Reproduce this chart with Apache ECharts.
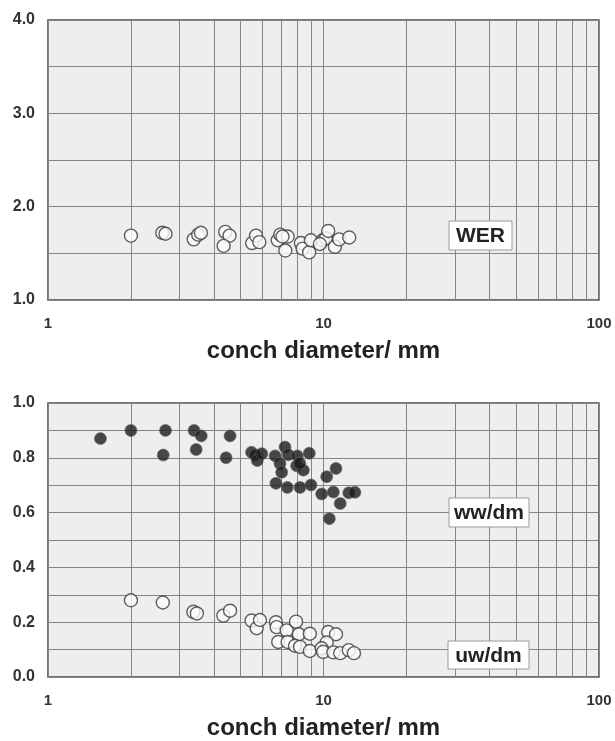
<!DOCTYPE html>
<html>
<head>
<meta charset="utf-8">
<script src="https://cdn.jsdelivr.net/npm/echarts@6/dist/echarts.min.js"></script>
<style>
  html, body { margin: 0; padding: 0; background: #fff; }
  #chart { width: 615px; height: 741px; }
</style>
</head>
<body>
<div id="chart"></div>
<script>
// conch diameter (mm) vs ratio
const werX = [2.0, 2.6, 2.67, 3.38, 3.51, 3.59, 4.40, 4.56, 4.34, 5.51, 5.69, 5.85, 6.82, 6.97, 7.41, 7.27, 8.28, 8.40, 8.87, 9.0, 9.93, 10.2, 10.4, 11.0, 11.4, 12.4, 7.1, 9.7]
const werY = [1.69, 1.72, 1.71, 1.65, 1.70, 1.72, 1.73, 1.69, 1.58, 1.61, 1.69, 1.62, 1.64, 1.70, 1.68, 1.53, 1.61, 1.55, 1.51, 1.64, 1.64, 1.66, 1.74, 1.57, 1.65, 1.67, 1.68, 1.60]

const wwX = [1.55, 2.0, 2.67, 2.62, 3.39, 3.60, 3.45, 4.58, 4.43, 5.48, 5.64, 5.75, 5.97, 6.67, 7.25, 7.45, 8.04, 8.88, 6.95, 7.99, 8.45, 7.05, 6.72, 7.39, 8.22, 9.01, 10.27, 11.1, 9.85, 10.86, 11.5, 10.5, 12.35, 13.0, 8.2]
const wwY = [0.87, 0.90, 0.90, 0.81, 0.90, 0.88, 0.83, 0.88, 0.80, 0.82, 0.81, 0.79, 0.815, 0.807, 0.839, 0.811, 0.807, 0.817, 0.779, 0.771, 0.755, 0.747, 0.707, 0.692, 0.692, 0.701, 0.731, 0.761, 0.668, 0.675, 0.633, 0.578, 0.672, 0.674, 0.78]

const uwX = [2.0, 2.61, 3.37, 3.47, 4.33, 4.58, 5.48, 5.72, 5.88, 6.72, 6.76, 7.35, 7.95, 8.14, 8.92, 6.85, 7.41, 7.88, 8.22, 8.92, 10.4, 11.1, 10.27, 9.85, 9.97, 10.86, 11.5, 12.35, 12.9]
const uwY = [0.28, 0.272, 0.238, 0.232, 0.224, 0.242, 0.206, 0.178, 0.208, 0.200, 0.182, 0.170, 0.202, 0.156, 0.158, 0.128, 0.128, 0.114, 0.110, 0.095, 0.164, 0.156, 0.126, 0.105, 0.092, 0.090, 0.087, 0.098, 0.087]

// intermediate log gridlines
const xGrid = [2, 3, 4, 5, 6, 7, 8, 9, 20, 30, 40, 50, 60, 70, 80, 90]

const xName = 'conch diameter/ mm'
const font = 'Liberation Sans, Arial, Helvetica, sans-serif'
const gridColor = '#858585'

const pairs = (xs, ys) => xs.map((x, i) => [x, ys[i]])

const chart = echarts.init(document.getElementById('chart'), null, { renderer: 'canvas' })

function xAxisOf(gi) {
  return {
    type: 'log', logBase: 10, min: 1, max: 100, gridIndex: gi,
    name: xName, nameLocation: 'middle', nameGap: 39,
    nameTextStyle: { fontFamily: font, fontWeight: 'bold', fontSize: 24, color: '#222' },
    axisLine: { show: false },
    axisTick: { show: false },
    axisLabel: { margin: 16, fontFamily: font, fontWeight: 'bold', fontSize: 15, color: '#333' },
    splitLine: { show: true, lineStyle: { color: gridColor, width: 1 } }
  }
}

function yAxisOf(gi, min, max, step, everyNth) {
  return {
    type: 'value', min, max, interval: step, gridIndex: gi,
    axisLine: { show: false },
    axisTick: { show: false },
    axisLabel: {
      margin: 13, fontFamily: font, fontWeight: 'bold', fontSize: 16, color: '#333',
      formatter: v => (Math.round((v - min) / step) % everyNth === 0 ? v.toFixed(1) : '')
    },
    splitLine: { show: true, lineStyle: { color: gridColor, width: 1 } }
  }
}

function gridLines(gi) {
  return {
    type: 'scatter', xAxisIndex: gi, yAxisIndex: gi, data: [], z: 1,
    markLine: {
      silent: true, symbol: 'none', animation: false, z: 1,
      label: { show: false },
      lineStyle: { color: gridColor, width: 1, type: 'solid' },
      emphasis: { disabled: true },
      data: xGrid.map(v => ({ xAxis: v }))
    }
  }
}

const openDot = { color: '#fbfbfb', borderColor: '#3a3a3a', borderWidth: 1.4 }
const filledDot = { color: '#1c1c1c', borderColor: '#666', borderWidth: 0.8 }

function labelBox(x, y, w, h, text) {
  return {
    type: 'group', x, y, z: 100,
    children: [
      { type: 'rect', z: 100, shape: { x: 0, y: 0, width: w, height: h },
        style: { fill: '#fff', stroke: '#9a9a9a', lineWidth: 1 } },
      { type: 'text', z: 101, x: w / 2, y: h / 2 + 1,
        style: { text, fontFamily: font, fontWeight: 'bold', fontSize: 21, fill: '#222',
                 align: 'center', verticalAlign: 'middle' } }
    ]
  }
}

chart.setOption({
  backgroundColor: '#fff',
  animation: false,
  grid: [
    { left: 48, right: 16, top: 20, height: 280, show: true, backgroundColor: '#eeeeee',
      borderColor: '#4a4a4a', borderWidth: 1.5 },
    { left: 48, right: 16, top: 403, height: 279, show: true, backgroundColor: '#eeeeee',
      borderColor: '#4a4a4a', borderWidth: 1.5 }
  ],
  xAxis: [xAxisOf(0), xAxisOf(1)],
  yAxis: [yAxisOf(0, 1, 4, 0.5, 2), yAxisOf(1, 0, 1, 0.1, 2)],
  series: [
    gridLines(0),
    gridLines(1),
    { name: 'WER', type: 'scatter', xAxisIndex: 0, yAxisIndex: 0, z: 3,
      symbolSize: 13, itemStyle: openDot, data: pairs(werX, werY) },
    { name: 'ww/dm', type: 'scatter', xAxisIndex: 1, yAxisIndex: 1, z: 3,
      symbolSize: 12, itemStyle: filledDot, data: pairs(wwX, wwY) },
    { name: 'uw/dm', type: 'scatter', xAxisIndex: 1, yAxisIndex: 1, z: 3,
      symbolSize: 13, itemStyle: openDot, data: pairs(uwX, uwY) }
  ],
  graphic: [
    labelBox(449, 221, 63, 29, 'WER'),
    labelBox(449, 498, 80, 29, 'ww/dm'),
    labelBox(448, 641, 81, 28, 'uw/dm')
  ]
})
</script>
</body>
</html>
